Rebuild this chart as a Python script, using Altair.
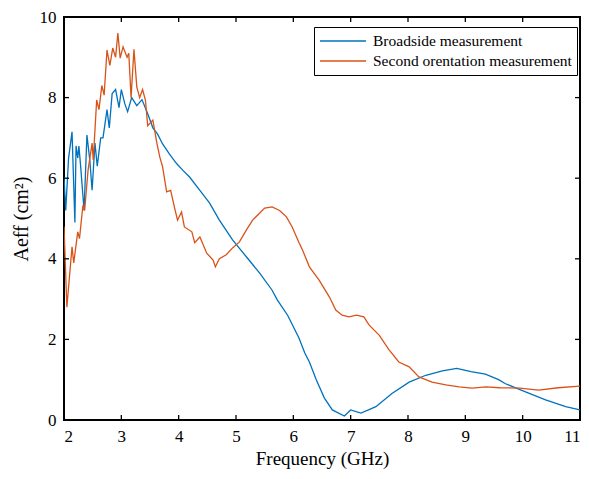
import altair as alt
import pandas as pd

# ---- data ----
blue_f = [2.0, 2.03, 2.08, 2.14, 2.19, 2.21, 2.24, 2.26, 2.29, 2.35, 2.40, 2.45, 2.49, 2.54, 2.58,
          2.64, 2.68, 2.75, 2.79, 2.84, 2.90, 2.96, 3.0, 3.06, 3.11, 3.18, 3.27, 3.36, 3.46, 3.55,
          3.63, 3.72, 3.84, 3.96, 4.07, 4.19, 4.37, 4.54, 4.71, 4.94, 5.18, 5.41, 5.63, 5.72, 5.9,
          6.1, 6.2, 6.28, 6.4, 6.54, 6.68, 6.89, 7.0, 7.18, 7.44, 7.72, 8.02, 8.31, 8.6, 8.85,
          9.1, 9.35, 9.58, 9.7, 10.05, 10.4, 10.75, 11.0]
blue_a = [6.03, 5.2, 6.5, 7.15, 4.9, 6.8, 6.5, 6.8, 6.3, 5.2, 7.07, 6.45, 5.7, 6.87, 6.3,
          7.0, 7.0, 7.7, 7.25, 8.1, 8.2, 7.75, 8.2, 7.85, 7.65, 8.0, 7.8, 7.95, 7.6, 7.25,
          7.1, 6.85, 6.6, 6.37, 6.2, 6.03, 5.7, 5.38, 4.96, 4.47, 4.05, 3.65, 3.22, 2.98, 2.6,
          2.03, 1.66, 1.44, 1.0, 0.55, 0.25, 0.1, 0.25, 0.17, 0.33, 0.66, 0.94, 1.11, 1.22, 1.28,
          1.2, 1.14, 1.0, 0.9, 0.7, 0.5, 0.33, 0.25]

orange_f = [2.0, 2.05, 2.14, 2.17, 2.24, 2.27, 2.33, 2.36, 2.42, 2.49, 2.51, 2.57, 2.61, 2.66, 2.70,
            2.75, 2.80, 2.85, 2.90, 2.94, 2.98, 3.03, 3.10, 3.13, 3.17, 3.22, 3.27, 3.32, 3.37, 3.42,
            3.46, 3.55, 3.62, 3.67, 3.72, 3.79, 3.86, 3.93, 3.98, 4.05, 4.10, 4.23, 4.28, 4.37, 4.49,
            4.60, 4.64, 4.71, 4.83, 4.94, 5.06, 5.18, 5.29, 5.41, 5.50, 5.63, 5.76, 5.88, 5.98, 6.10,
            6.16, 6.28, 6.45, 6.63, 6.74, 6.85, 6.97, 7.10, 7.23, 7.32, 7.50, 7.67, 7.84, 8.02, 8.19,
            8.42, 8.66, 8.89, 9.12, 9.36, 9.60, 9.95, 10.28, 10.62, 11.0]
orange_a = [4.8, 2.8, 4.3, 3.9, 4.67, 4.5, 5.33, 5.2, 6.2, 6.87, 6.45, 7.94, 7.7, 8.3, 8.06,
            9.18, 8.8, 9.23, 9.0, 9.6, 8.98, 9.26, 9.0, 9.1, 8.0, 9.2, 8.26, 8.0, 8.2, 7.94,
            7.3, 7.44, 6.87, 6.53, 6.28, 5.66, 5.7, 5.26, 4.96, 5.16, 4.79, 4.67, 4.4, 4.54, 4.14,
            3.97, 3.8, 4.0, 4.1, 4.27, 4.42, 4.71, 4.96, 5.13, 5.26, 5.29, 5.2, 5.04, 4.79, 4.4,
            4.22, 3.8, 3.47, 3.05, 2.73, 2.6, 2.56, 2.6, 2.56, 2.36, 2.1, 1.74, 1.44, 1.32, 1.07,
            0.94, 0.87, 0.82, 0.79, 0.82, 0.8, 0.79, 0.74, 0.8, 0.84]

series_names = ["Broadside measurement", "Second orentation measurement"]
series_colors = ["#0072BD", "#D95319"]
x_ticks = [2, 3, 4, 5, 6, 7, 8, 9, 10, 11]
y_ticks = [0, 2, 4, 6, 8, 10]

W, H = 516, 403
FONT = "Liberation Serif"

df = pd.concat([
    pd.DataFrame({"f": blue_f, "a": blue_a, "s": series_names[0], "o": range(len(blue_f))}),
    pd.DataFrame({"f": orange_f, "a": orange_a, "s": series_names[1], "o": range(len(orange_f))}),
])
xt = pd.DataFrame({"v": x_ticks})
yt = pd.DataFrame({"v": y_ticks})

xs = alt.Scale(domain=[2, 11], nice=False, zero=False)
ys = alt.Scale(domain=[0, 10], nice=False)

lines = alt.Chart(df).mark_line(strokeWidth=1.3, clip=True).encode(
    x=alt.X("f:Q", scale=xs, title="Frequency (GHz)",
            axis=alt.Axis(values=x_ticks, format="d", tickSize=0, labelPadding=8, grid=False,
                          domain=False, titlePadding=5, titleFontSize=19)),
    y=alt.Y("a:Q", scale=ys, title="Aeff (cm²)",
            axis=alt.Axis(values=y_ticks, format="d", tickSize=0, labelPadding=8, grid=False,
                          domain=False, titlePadding=8, titleFontSize=20)),
    color=alt.Color("s:N", scale=alt.Scale(domain=series_names, range=series_colors),
                    legend=alt.Legend(title=None, orient="none", legendX=250, legendY=10,
                                      strokeColor="black", fillColor="white",
                                      padding=5,
                                      symbolType="stroke", symbolSize=2116, symbolStrokeWidth=1.5,
                                      clipHeight=18, rowPadding=2,
                                      labelFontSize=15.5, labelFont=FONT,
                                      labelColor="black",
                                      labelLimit=400, labelOffset=6)),
    order="o:Q",
)

tb = alt.Chart(xt).mark_rule(color="black", strokeWidth=1.3).encode(
    x=alt.X("v:Q", scale=xs), y=alt.value(H), y2=alt.value(H - 5))
tt = alt.Chart(xt).mark_rule(color="black", strokeWidth=1.3).encode(
    x=alt.X("v:Q", scale=xs), y=alt.value(0), y2=alt.value(5))
tl = alt.Chart(yt).mark_rule(color="black", strokeWidth=1.3).encode(
    y=alt.Y("v:Q", scale=ys), x=alt.value(0), x2=alt.value(5))
tr = alt.Chart(yt).mark_rule(color="black", strokeWidth=1.3).encode(
    y=alt.Y("v:Q", scale=ys), x=alt.value(W), x2=alt.value(W - 5))

chart = alt.layer(lines, tb, tt, tl, tr).properties(
    width=W, height=H,
    background="white",
    autosize=alt.AutoSizeParams(type="none"),
    padding={"left": 56, "top": 9, "right": 1, "bottom": 51},
).configure_view(
    stroke="black", strokeWidth=2
).configure_axis(
    labelFont=FONT, titleFont=FONT, labelFontSize=17, titleFontSize=19,
    titleFontWeight="normal", labelColor="black", titleColor="black"
).configure_legend(
    strokeWidth=1
)

chart.save("out.html", embed_options={"renderer": "svg", "actions": False})
